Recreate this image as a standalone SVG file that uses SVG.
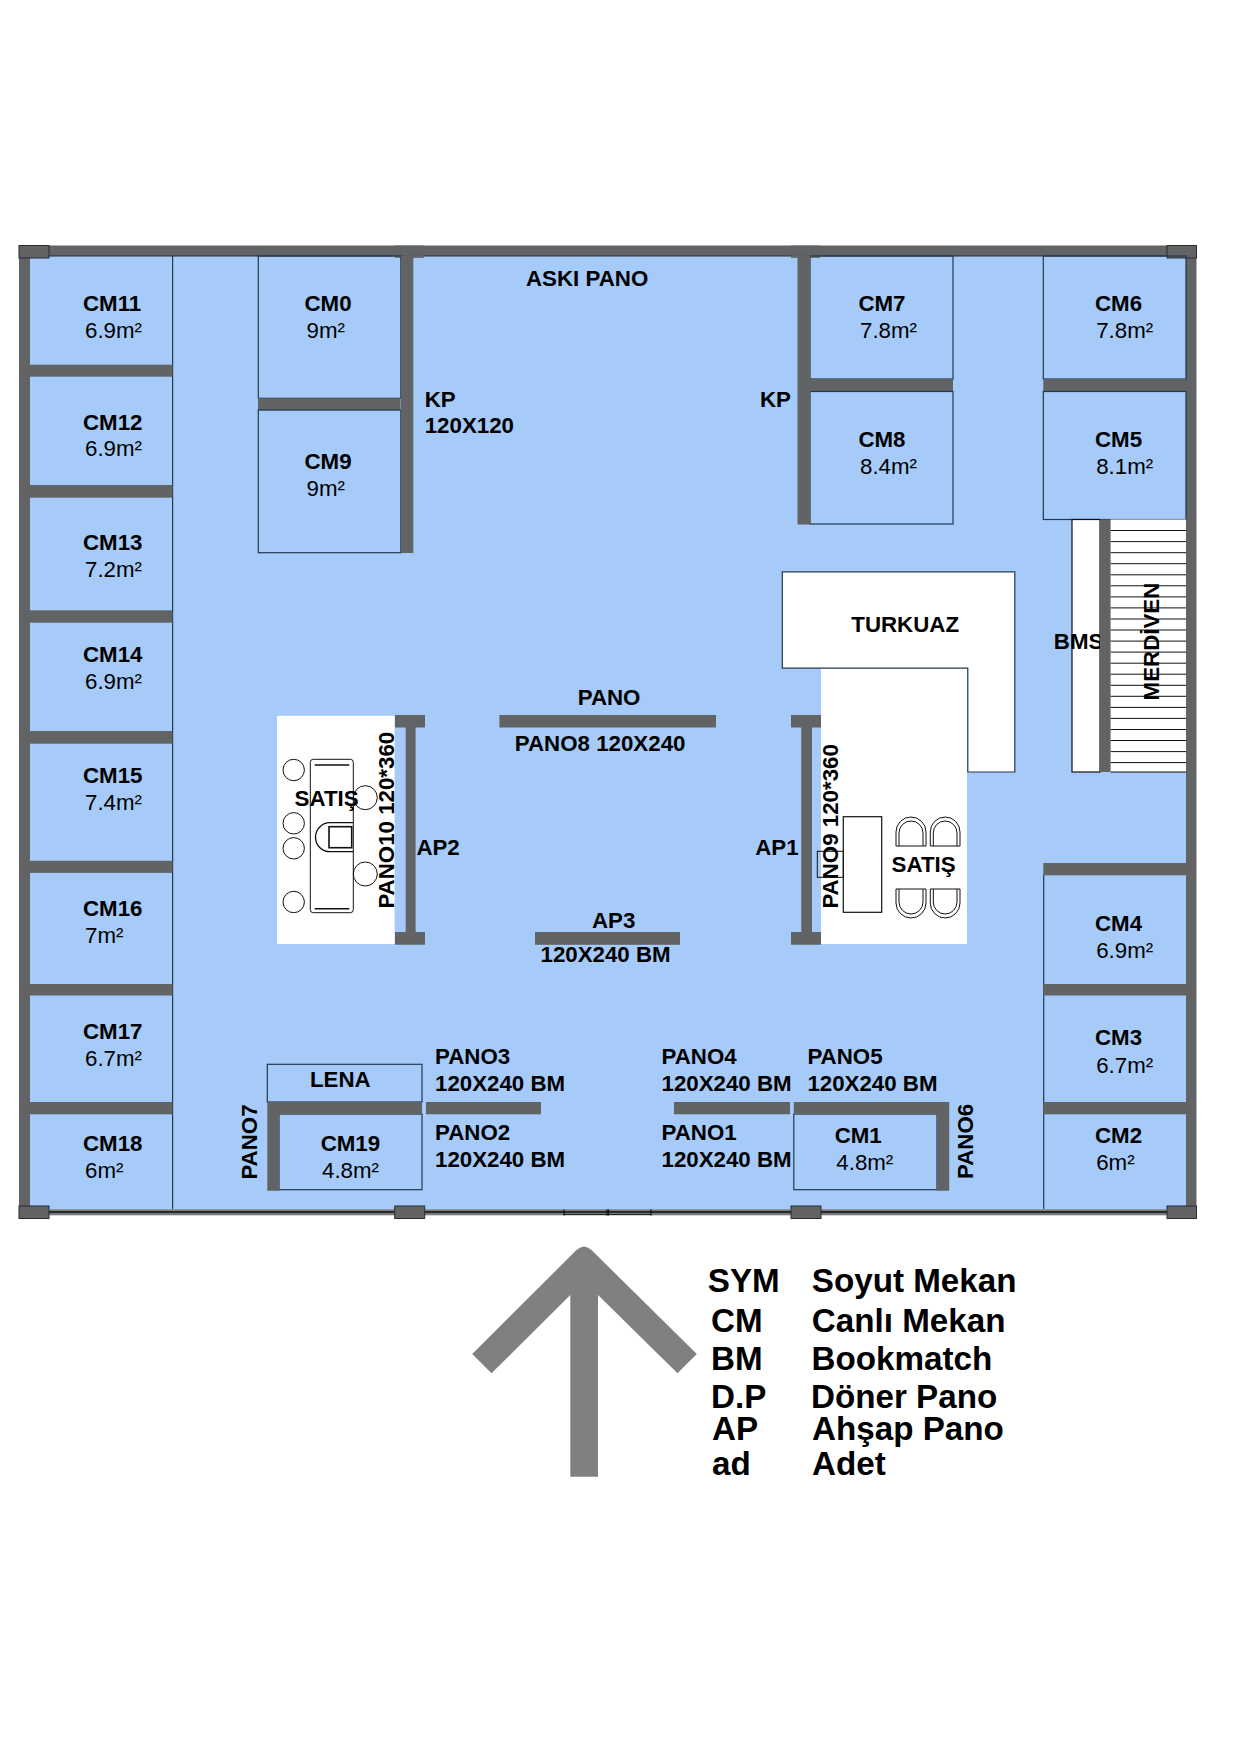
<svg xmlns="http://www.w3.org/2000/svg" width="1240" height="1755" viewBox="0 0 1240 1755">
<style>
text{font-family:"Liberation Sans",Arial,sans-serif;font-size:22.3px;fill:#000}
.b{font-weight:700}
.lg{font-weight:700;font-size:33.2px}
.w{fill:#626365}
.wo{fill:#626365;stroke:#2b2d30;stroke-width:1}
.ln{fill:none;stroke:#24384f;stroke-width:1.2}
.k{fill:none;stroke:#111;stroke-width:1}
.kw{fill:#fff;stroke:#111;stroke-width:1.2}
</style>
<rect width="1240" height="1755" fill="#fff"/>
<g id="floor"><rect x="30" y="256" width="1156" height="953.5" fill="#a6cbf9"/></g>
<g id="walls">
<rect class="w" x="49" y="245.5" width="1118" height="10.5"/>
<line x1="49" y1="256" x2="1167" y2="256" stroke="#2b2d30" stroke-width="1"/>
<rect class="w" x="19" y="258" width="11" height="948"/>
<rect class="w" x="1186" y="258" width="10.5" height="948"/>
<rect class="w" x="395" y="245.5" width="29" height="12.5" opacity=".85"/>
<rect class="w" x="791" y="245.5" width="29" height="12.5" opacity=".85"/>
<rect class="wo" x="19" y="245.5" width="30" height="12.5"/>
<rect class="wo" x="1167" y="245.5" width="29.5" height="12.5"/>
<rect x="49" y="1209.3" width="1118" height="6" fill="#77797b"/>
<line x1="49" y1="1212" x2="1167" y2="1212" stroke="#111" stroke-width="1.5"/>
<line x1="564" y1="1214.5" x2="651" y2="1214.5" stroke="#222" stroke-width="1"/>
<path d="M564 1209.5V1215.5M607 1209.5V1215.5M608.5 1209.5V1215.5M651 1209.5V1215.5" stroke="#111" stroke-width="1.2" fill="none"/>
<rect class="wo" x="19" y="1206" width="30" height="12.5"/>
<rect class="wo" x="394.7" y="1206" width="30" height="12.5"/>
<rect class="wo" x="791" y="1206" width="30" height="12.5"/>
<rect class="wo" x="1167" y="1206" width="29.5" height="12.5"/>
</g>
<g id="left-column-line"><line class="ln" x1="172.6" y1="256" x2="172.6" y2="1209"/></g>
<g id="CM11"><rect class="w" x="30" y="364.7" width="142.5" height="12"/><text class="b" x="83" y="311">CM11</text><text x="85" y="338.3">6.9m²</text></g>
<g id="CM12"><rect class="w" x="30" y="485" width="142.5" height="12.7"/><text class="b" x="83" y="430">CM12</text><text x="85" y="456">6.9m²</text></g>
<g id="CM13"><rect class="w" x="30" y="610.3" width="142.5" height="12.4"/><text class="b" x="83" y="550">CM13</text><text x="85" y="577.3">7.2m²</text></g>
<g id="CM14"><rect class="w" x="30" y="731" width="142.5" height="12.7"/><text class="b" x="83" y="662">CM14</text><text x="85" y="689.3">6.9m²</text></g>
<g id="CM15"><rect class="w" x="30" y="860.8" width="142.5" height="12.1"/><text class="b" x="83" y="783">CM15</text><text x="85" y="810">7.4m²</text></g>
<g id="CM16"><rect class="w" x="30" y="984" width="142.5" height="11.5"/><text class="b" x="83" y="916">CM16</text><text x="85" y="942.8">7m²</text></g>
<g id="CM17"><rect class="w" x="30" y="1102" width="142.5" height="12.3"/><text class="b" x="83" y="1039">CM17</text><text x="85" y="1065.7">6.7m²</text></g>
<g id="CM18"><text class="b" x="83" y="1151">CM18</text><text x="85" y="1177.6">6m²</text></g>
<g id="CM0"><rect class="ln" x="258.3" y="256" width="142.5" height="142.3"/><rect class="w" x="258" y="398.3" width="142.5" height="12"/><text class="b" x="304.5" y="311">CM0</text><text x="306.5" y="338">9m²</text></g>
<g id="CM9"><rect class="ln" x="258.3" y="410" width="142.5" height="142.7"/><rect class="w" x="400.8" y="256" width="12.5" height="297"/><text class="b" x="304.5" y="468.7">CM9</text><text x="306.5" y="495.7">9m²</text></g>
<g id="KP-left"><text class="b" x="424.7" y="407">KP</text><text class="b" x="424.7" y="433.3">120X120</text></g>
<g id="aski-pano"><text class="b" x="526" y="286">ASKI PANO</text></g>
<g id="CM7"><rect class="ln" x="810" y="256" width="143" height="123"/><rect class="w" x="810" y="379" width="143" height="12.5"/><text class="b" x="858.4" y="311">CM7</text><text x="860" y="338.4">7.8m²</text></g>
<g id="CM8"><rect class="ln" x="810" y="391.5" width="143" height="132.5"/><rect class="w" x="797.5" y="256" width="12.7" height="268.5"/><text class="b" x="858.4" y="447">CM8</text><text x="860" y="474.4">8.4m²</text></g>
<g id="KP-right"><text class="b" x="760" y="407">KP</text></g>
<g id="CM6"><rect class="ln" x="1043.3" y="256" width="142.7" height="123"/><rect class="w" x="1043.3" y="379" width="142.7" height="12.5"/><text class="b" x="1095" y="311">CM6</text><text x="1096.2" y="338.4">7.8m²</text></g>
<g id="CM5"><rect class="ln" x="1043.3" y="391.5" width="142.7" height="128"/><text class="b" x="1095" y="447">CM5</text><text x="1096.2" y="474.4">8.1m²</text></g>
<g id="BMS"><rect class="kw" x="1072" y="519.5" width="28" height="252.5"/><text class="b" x="1053.8" y="649">BMS</text></g>
<g id="MERDIVEN">
<rect x="1110.5" y="519.5" width="75.5" height="252.5" fill="#fff"/>
<path class="k" d="M1110.5 530.5H1186M1110.5 541.6H1186M1110.5 552.7H1186M1110.5 563.7H1186M1110.5 574.8H1186M1110.5 585.8H1186M1110.5 596.9H1186M1110.5 607.9H1186M1110.5 619H1186M1110.5 630H1186M1110.5 641.1H1186M1110.5 652.1H1186M1110.5 663.2H1186M1110.5 674.2H1186M1110.5 685.3H1186M1110.5 696.3H1186M1110.5 707.4H1186M1110.5 718.4H1186M1110.5 729.5H1186M1110.5 740.5H1186M1110.5 751.6H1186M1110.5 762.6H1186M1110.5 772H1186"/>
<rect class="w" x="1100" y="519.5" width="10.5" height="252.5"/>
<text class="b" transform="translate(1158.5 700.4) rotate(-90)">MERDİVEN</text>
</g>
<g id="SATIS-right">
<rect x="821" y="668" width="146" height="276" fill="#fff"/>
<rect class="kw" x="843.3" y="816.7" width="38.4" height="95.6"/>
<rect class="k" x="817.3" y="851.3" width="26" height="26"/>
<path class="k" d="M896 846V832A15 15 0 0 1 926 832V846ZM899 846V833A12 12 0 0 1 923 833V846M930.3 846V832A14.85 15 0 0 1 960 832V846ZM933.3 846V833A11.85 12 0 0 1 957 833V846M896 889V903A15 15 0 0 0 926 903V889ZM899 889V902A12 12 0 0 0 923 902V889M930.3 889V903A14.85 15 0 0 0 960 903V889ZM933.3 889V902A11.85 12 0 0 0 957 902V889"/>
<text class="b" x="891.6" y="872">SATIŞ</text>
</g>
<g id="TURKUAZ"><path d="M782.3 571.8H1014.8V772H967.8V668.2H782.3Z" fill="#fff"/><path class="ln" d="M821 668.2H782.3V571.8H1014.8V772H967.8V668.2H821"/><text class="b" x="851.3" y="632">TURKUAZ</text></g>
<g id="SATIS-left">
<rect x="277" y="715.8" width="117.6" height="228.2" fill="#fff"/>
<rect class="k" x="310.3" y="759.3" width="43" height="153.4" rx="3"/>
<path d="M314.7 765H349.3M314.7 908.7H349.3" stroke="#111" stroke-width="1.5" fill="none"/>
<path d="M353 822.7H330A14.5 14.5 0 0 0 330 851.7H353" fill="none" stroke="#111" stroke-width="1.3"/>
<rect x="329" y="826.7" width="22.7" height="21" fill="none" stroke="#111" stroke-width="1.6"/>
<circle class="k" cx="293.7" cy="770" r="10.7"/><circle class="k" cx="293.7" cy="823.3" r="10.7"/><circle class="k" cx="293.7" cy="848.3" r="10.7"/><circle class="k" cx="293.7" cy="902" r="10.7"/>
<circle class="k" cx="365.3" cy="797.7" r="12"/><circle class="k" cx="365.3" cy="874" r="12"/>
<text class="b" x="294.6" y="805.7">SATIŞ</text>
</g>
<g id="AP2"><path class="w" d="M395 715H425V727.5H415.6V932H425V944.8H395V932H405.7V727.5H395Z"/><text class="b" x="416.4" y="855">AP2</text><text class="b" transform="translate(393.5 908.6) rotate(-90)">PANO10 120*360</text></g>
<g id="AP1"><path class="w" d="M791 715H821V727.5H812V932H821V944.8H791V932H801.3V727.5H791Z"/><text class="b" x="755.2" y="855">AP1</text><text class="b" transform="translate(837.5 908.6) rotate(-90)">PANO9 120*360</text></g>
<g id="PANO8"><rect class="w" x="499.4" y="715" width="216.6" height="12.5"/><text class="b" x="577.7" y="704.7">PANO</text><text class="b" x="514.8" y="751">PANO8 120X240</text></g>
<g id="AP3"><rect class="w" x="535" y="932" width="145" height="12.8"/><text class="b" x="592" y="928">AP3</text><text class="b" x="540.5" y="962.4">120X240 BM</text></g>
<g id="LENA"><rect class="ln" x="267.3" y="1064.3" width="154.7" height="37.7"/><text class="b" x="310" y="1086.7">LENA</text></g>
<g id="CM19"><rect class="ln" x="279" y="1114" width="143" height="75.7"/><path class="w" d="M267.3 1102H422V1114.3H279V1190.7H267.3Z"/><text class="b" x="320.7" y="1151">CM19</text><text x="322" y="1177.6">4.8m²</text><text class="b" transform="translate(257 1179.6) rotate(-90)">PANO7</text></g>
<g id="PANO2-3"><rect class="w" x="426" y="1102" width="115" height="12.3"/><text class="b" x="435" y="1064">PANO3</text><text class="b" x="435" y="1090.8">120X240 BM</text><text class="b" x="435" y="1139.7">PANO2</text><text class="b" x="435" y="1167">120X240 BM</text></g>
<g id="PANO1-4"><rect class="w" x="674" y="1102" width="116" height="12.3"/><text class="b" x="661.5" y="1064">PANO4</text><text class="b" x="661.5" y="1090.8">120X240 BM</text><text class="b" x="661.5" y="1139.7">PANO1</text><text class="b" x="661.5" y="1167">120X240 BM</text></g>
<g id="CM1"><rect class="ln" x="793.8" y="1114" width="143.2" height="75.7"/><path class="w" d="M793.8 1102H949.2V1190.7H937V1114.3H793.8Z"/><text class="b" x="807.4" y="1064">PANO5</text><text class="b" x="807.4" y="1090.8">120X240 BM</text><text class="b" x="834.7" y="1142.5">CM1</text><text x="836.3" y="1170">4.8m²</text><text class="b" transform="translate(973 1179) rotate(-90)">PANO6</text></g>
<g id="CM4"><rect class="w" x="1043.3" y="863" width="142.7" height="12.3"/><line class="ln" x1="1043.7" y1="875" x2="1043.7" y2="1209"/><rect class="w" x="1043.3" y="984" width="142.7" height="11.5"/><text class="b" x="1095" y="930.7">CM4</text><text x="1096.2" y="957.6">6.9m²</text></g>
<g id="CM3"><rect class="w" x="1043.3" y="1102" width="142.7" height="12.3"/><text class="b" x="1095" y="1045.4">CM3</text><text x="1096.2" y="1073">6.7m²</text></g>
<g id="CM2"><text class="b" x="1095" y="1142.5">CM2</text><text x="1096.2" y="1170">6m²</text></g>
<g id="north-arrow"><path fill="#808080" d="M576.5 1250Q584 1243 591.5 1250L696.8 1354L677.5 1373.3L598 1295V1476.7H570.3V1295L491.5 1373.3L472.2 1354Z"/></g>
<g id="legend">
<text class="lg" x="707.8" y="1291.7">SYM</text><text class="lg" x="811.8" y="1291.7">Soyut Mekan</text>
<text class="lg" x="711" y="1332">CM</text><text class="lg" x="811.8" y="1332">Canlı Mekan</text>
<text class="lg" x="711" y="1370">BM</text><text class="lg" x="811.5" y="1370">Bookmatch</text>
<text class="lg" x="711" y="1407.7">D.P</text><text class="lg" x="811" y="1407.7">Döner Pano</text>
<text class="lg" x="712" y="1440">AP</text><text class="lg" x="812" y="1440">Ahşap Pano</text>
<text class="lg" x="712" y="1475">ad</text><text class="lg" x="812" y="1475">Adet</text>
</g>
</svg>
